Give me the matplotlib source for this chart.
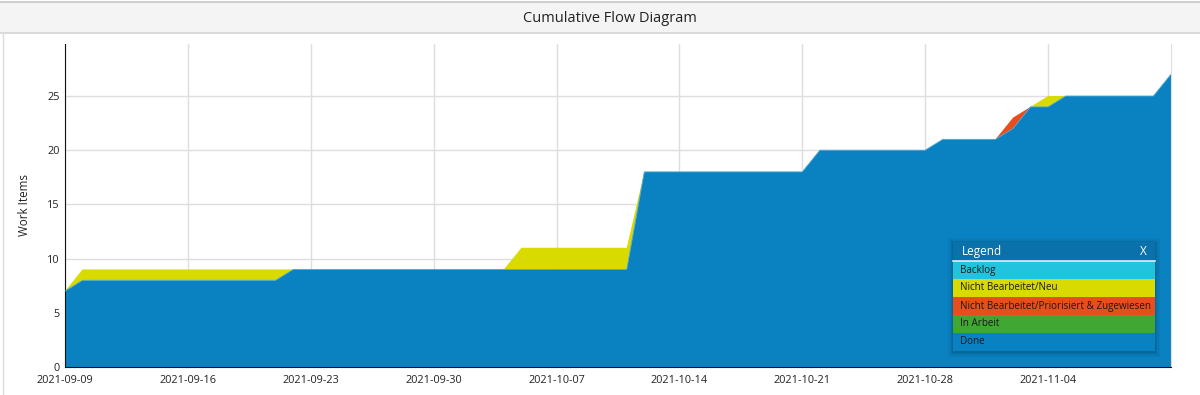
import matplotlib.pyplot as plt
import matplotlib.dates as mdates
from matplotlib.patches import Rectangle
import pandas as pd

# daily values, 2021-09-09 .. 2021-11-11
start_date = "2021-09-09"
done = [7] + [8] * 12 + [9] * 20 + [18] * 10 + [20] * 7 + [21] * 4 + [22] + [24] * 2 + [25] * 6 + [27]
in_arbeit = [0] * 64
priorisiert = [0] * 54 + [1] + [0] * 9
neu = [0] + [1] * 12 + [0] * 13 + [2] * 7 + [0] * 23 + [1] + [0] * 7
backlog = [0] * 64

legend_labels = ["Backlog", "Nicht Bearbeitet/Neu", "Nicht Bearbeitet/Priorisiert & Zugewiesen", "In Arbeit", "Done"]
legend_colors = ["#22c3df", "#d8da00", "#e84e1b", "#40a733", "#0a82c1"]
tick_dates = ["2021-09-09", "2021-09-16", "2021-09-23", "2021-09-30", "2021-10-07",
              "2021-10-14", "2021-10-21", "2021-10-28", "2021-11-04"]

dates = pd.date_range(start_date, periods=len(done))

W, H = 1200, 395
fig = plt.figure(figsize=(W / 100, H / 100), dpi=100)
plt.rcParams['font.family'] = ['Open Sans', 'DejaVu Sans']

def fx(px):
    return px / W

def fy(py):
    return 1 - py / H

# header bar and panel border
fig.patches.append(Rectangle((0, fy(33)), 1, fy(1) - fy(33), transform=fig.transFigure,
                             facecolor="#f4f4f4", edgecolor="none", zorder=0))
fig.add_artist(plt.Line2D([0, 1], [fy(1.5), fy(1.5)], color="#c8c8c8", lw=1.2))
fig.add_artist(plt.Line2D([0, 1], [fy(33), fy(33)], color="#d4d4d4", lw=1.2))
fig.add_artist(plt.Line2D([fx(3), fx(3)], [0, fy(33)], color="#dcdcdc", lw=1))
fig.text(0.508, fy(18.5), "Cumulative Flow Diagram", ha="center", va="center", fontsize=10.5, color="#222222")

ax = fig.add_axes([fx(65), fy(367), fx(1171) - fx(65), fy(44) - fy(367)])
ax.stackplot(dates, done, in_arbeit, priorisiert, neu, backlog,
             colors=legend_colors[::-1], linewidth=0, zorder=2)
ax.plot(dates, done, color="#4aa6d6", lw=0.6, zorder=3)

ax.set_xlim(dates[0], dates[-1])
ax.set_ylim(0, 29.8)
ax.set_yticks([0, 5, 10, 15, 20, 25])
ax.set_xticks(pd.to_datetime(tick_dates))
ax.xaxis.set_major_formatter(mdates.DateFormatter("%Y-%m-%d"))
ax.grid(True, color="#dedede", lw=1, zorder=0)
ax.set_axisbelow(True)
ax.tick_params(length=0, labelsize=7.8, colors="#222222")
ax.tick_params(axis="y", pad=4)
ax.tick_params(axis="x", pad=6)
ax.set_ylabel("Work Items", fontsize=8.4, color="#222222")
ax.yaxis.set_label_coords((31 - 65) / 1106, 0.5)
ax.spines["top"].set_visible(False)
ax.spines["right"].set_color("#dedede")
ax.spines["left"].set_color("#111111")
ax.spines["bottom"].set_color("#111111")

# legend box
lx0, lx1 = 953, 1155
ly0 = 242
head_h = 18
row_h = 18
ly1 = ly0 + head_h + 1 + 5 * row_h
for pad, a in [(5, 0.06), (3.5, 0.08), (2, 0.12), (1, 0.15)]:
    fig.patches.append(Rectangle((fx(lx0 - pad), fy(ly1 + pad + 1)), fx(lx1 - lx0 + 2 * pad),
                                 fy(ly0 - pad + 1) - fy(ly1 + pad + 1), transform=fig.transFigure,
                                 facecolor="#053a5a", alpha=a, edgecolor="none", zorder=5))
fig.patches.append(Rectangle((fx(lx0), fy(ly0 + head_h)), fx(lx1 - lx0), fy(ly0) - fy(ly0 + head_h),
                             transform=fig.transFigure, facecolor="#0a71ab", edgecolor="none", zorder=6))
fig.text(fx(lx0 + 9), fy(ly0 + head_h / 2 + 1), "Legend", ha="left", va="center", fontsize=8.5, color="white", zorder=7)
fig.text(fx(lx1 - 12), fy(ly0 + head_h / 2 + 1), "X", ha="center", va="center", fontsize=8.5, color="white", zorder=7)
fig.add_artist(plt.Line2D([fx(lx0), fx(lx1)], [fy(ly0 + head_h + 0.5), fy(ly0 + head_h + 0.5)],
                          color="#dfeef7", lw=1.2, zorder=7))
for i, (lab, col) in enumerate(zip(legend_labels, legend_colors)):
    top = ly0 + head_h + 1 + i * row_h
    fig.patches.append(Rectangle((fx(lx0), fy(top + row_h)), fx(lx1 - lx0), fy(top) - fy(top + row_h),
                                 transform=fig.transFigure, facecolor=col, edgecolor="none", zorder=6))
    fig.text(fx(lx0 + 7), fy(top + row_h / 2), lab, ha="left", va="center", fontsize=7.1, color="#1a1a1a", zorder=7)

fig.savefig("out.png", dpi=100)
